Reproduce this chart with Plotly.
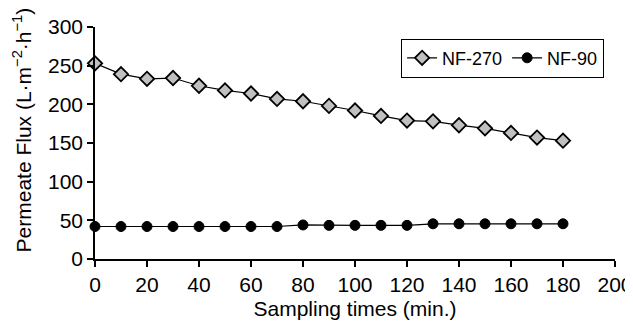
import plotly.graph_objects as go

times = [0, 10, 20, 30, 40, 50, 60, 70, 80, 90, 100, 110, 120, 130, 140, 150, 160, 170, 180]
nf270 = [253, 239, 233, 234, 224, 218, 214, 207, 204, 198, 192, 185, 179, 178, 173, 169, 163, 157, 153]
nf90 = [42, 42, 42, 42, 42, 42, 42, 42, 44, 43.5, 43.5, 43.5, 43.5, 45.5, 45.5, 45.5, 45.5, 45.5, 45.5]

x_ticks = [0, 20, 40, 60, 80, 100, 120, 140, 160, 180, 200]
y_ticks = [0, 50, 100, 150, 200, 250, 300]

font = "Liberation Sans, Arial, sans-serif"

fig = go.Figure()
fig.add_trace(go.Scatter(
    x=times, y=nf270, name="NF-270", mode="lines+markers",
    line=dict(color="black", width=1.2),
    marker=dict(symbol="diamond", size=11, color="#c0c0c0",
                line=dict(color="black", width=1.8)),
    cliponaxis=False,
))
fig.add_trace(go.Scatter(
    x=times, y=nf90, name="NF-90", mode="lines+markers",
    line=dict(color="black", width=1.2),
    marker=dict(symbol="circle", size=10, color="black",
                line=dict(color="black", width=1)),
    cliponaxis=False,
))

fig.add_annotation(
    text="Permeate Flux (L·m<sup>−2</sup>·h<sup>−1</sup>)",
    xref="paper", yref="paper", x=-0.140, y=0.555,
    xanchor="center", yanchor="middle", textangle=-90,
    showarrow=False, font=dict(size=21, family=font, color="black"),
)

fig.update_layout(
    width=625, height=314,
    margin=dict(l=87, r=18, t=19, b=63),
    paper_bgcolor="white", plot_bgcolor="white",
    font=dict(family=font, size=19, color="black"),
    showlegend=True,
    legend=dict(
        orientation="h", x=0.979, y=0.95, xanchor="right", yanchor="top",
        bordercolor="black", borderwidth=1, bgcolor="white",
        font=dict(size=18), itemwidth=30, tracegroupgap=0,
    ),
    xaxis=dict(
        range=[0, 200], tickvals=x_ticks, showgrid=False, zeroline=False,
        showline=True, linecolor="black", linewidth=1.5,
        ticks="outside", ticklen=6, tickcolor="black", tickwidth=1.5,
        title=dict(text="Sampling times (min.)", standoff=6, font=dict(size=21)),
        tickfont=dict(size=21), automargin=False,
    ),
    yaxis=dict(
        range=[0, 300], tickvals=y_ticks, showgrid=False, zeroline=False,
        showline=True, linecolor="black", linewidth=1.5,
        ticks="outside", ticklen=6, tickcolor="black", tickwidth=1.5,
        tickfont=dict(size=21), automargin=False,
    ),
)

fig.write_html("out.html")
